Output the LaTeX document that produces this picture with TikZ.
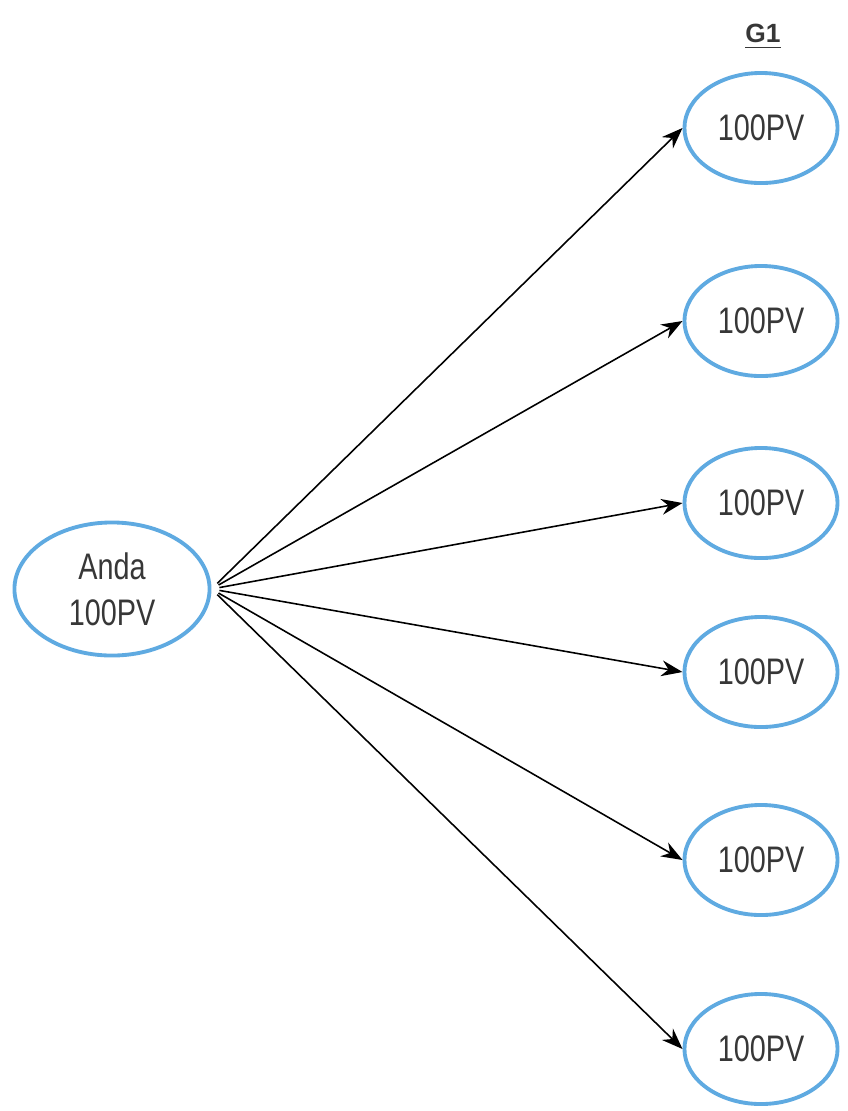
\documentclass[tikz,border=0pt]{standalone}
\usepackage{fontspec}
\setmainfont{Liberation Sans}
\newfontfamily\narrowfont[FakeStretch=0.78]{Liberation Sans}
\usetikzlibrary{shapes.geometric,arrows.meta}
\definecolor{ringblue}{RGB}{95,170,225}
\definecolor{txtgray}{RGB}{55,55,55}
\begin{document}
\begin{tikzpicture}[x=0.01cm,y=-0.01cm,
  pv/.style={ellipse,draw=ringblue,line width=1.1pt,inner sep=0pt,text=txtgray,
    font=\narrowfont\fontsize{10.5}{13}\selectfont,align=center,
    minimum width=1.53cm,minimum height=1.1cm},
  gain/.style={-{Stealth[length=6pt,width=4.5pt]},line width=0.45pt,shorten <=2.3pt}]
\useasboundingbox (0,0) rectangle (848,1111);
\node[pv,minimum width=1.95cm,minimum height=1.33cm] (anda) at (112,589) {Anda\\100PV};
\node[font=\bfseries\fontsize{7.5}{9}\selectfont,text=txtgray] (gone) at (763,37) {\underline{G1}};
\node[pv] (pva) at (761,128) {100PV};
\node[pv] (pvb) at (761,321) {100PV};
\node[pv] (pvc) at (761,503) {100PV};
\node[pv] (pvd) at (761,672) {100PV};
\node[pv] (pve) at (761,860) {100PV};
\node[pv] (pvf) at (761,1049) {100PV};
\draw[gain] (anda.east) -- (pva.west);
\draw[gain] (anda.east) -- (pvb.west);
\draw[gain] (anda.east) -- (pvc.west);
\draw[gain] (anda.east) -- (pvd.west);
\draw[gain] (anda.east) -- (pve.west);
\draw[gain] (anda.east) -- (pvf.west);
\end{tikzpicture}
\end{document}
